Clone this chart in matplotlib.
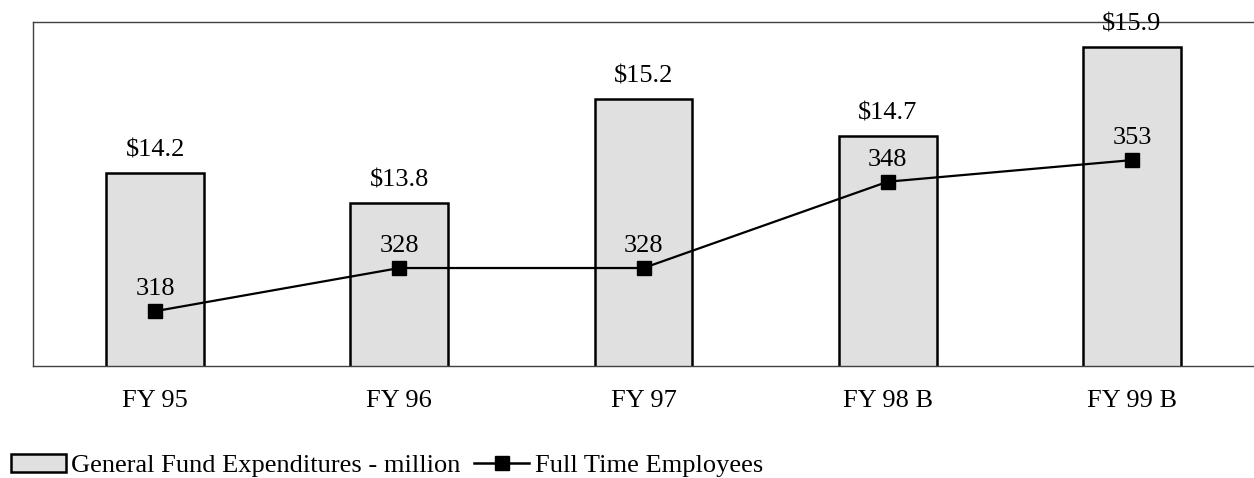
import matplotlib.pyplot as plt
from matplotlib.patches import Patch
from matplotlib.lines import Line2D

# data
years = ['FY 95', 'FY 96', 'FY 97', 'FY 98 B', 'FY 99 B']
expend = [14.2, 13.8, 15.2, 14.7, 15.9]          # $ million
expend_labels = ['$14.2', '$13.8', '$15.2', '$14.7', '$15.9']
employees = [318, 328, 328, 348, 353]

plt.rcParams['font.family'] = ['Liberation Serif', 'DejaVu Serif']
plt.rcParams['font.size'] = 19

fig = plt.figure(figsize=(12.54, 4.78), dpi=100)
ax = fig.add_axes([33 / 1254, 1 - 366 / 478, 1 - 33 / 1254, (366 - 22) / 478])

x = list(range(len(years)))
ax.bar(x, expend, width=0.4, color='#e0e0e0', edgecolor='black', linewidth=1.8, zorder=2)
ax.set_xlim(-0.5, len(years) - 0.5)
ax.set_ylim(11.6, 16.23)
ax.set_yticks([])
ax.set_xticks(x)
ax.set_xticklabels(years)
ax.tick_params(axis='x', length=0, pad=17)
for s in ['left', 'top', 'bottom']:
    ax.spines[s].set_color('#404040')
    ax.spines[s].set_linewidth(1.0)
ax.spines['right'].set_visible(False)

for xi, v, lab in zip(x, expend, expend_labels):
    ax.annotate(lab, (xi, v), xytext=(0, 8), textcoords='offset points',
                ha='center', va='bottom', annotation_clip=False)

ax2 = ax.twinx()
ax2.plot(x, employees, color='black', linewidth=1.6, marker='s', markersize=10.5, zorder=3)
ax2.set_ylim(305.3, 385)
ax2.set_yticks([])
for s in ax2.spines.values():
    s.set_visible(False)
for xi, v in zip(x, employees):
    ax2.annotate(str(v), (xi, v), xytext=(0, 8), textcoords='offset points',
                 ha='center', va='bottom')

handles = [Patch(facecolor='#e0e0e0', edgecolor='black', linewidth=1.8),
           Line2D([0], [0], color='black', linewidth=1.8, marker='s', markersize=10)]
fig.legend(handles, ['General Fund Expenditures - million', 'Full Time Employees'],
           loc='lower left', bbox_to_anchor=(0.0, -0.02), ncol=2, frameon=False,
           fontsize=19, handlelength=2.1, handleheight=0.7, handletextpad=0.2,
           columnspacing=0.5, borderaxespad=0.2, borderpad=0.2)

plt.savefig('out.png', dpi=100)
